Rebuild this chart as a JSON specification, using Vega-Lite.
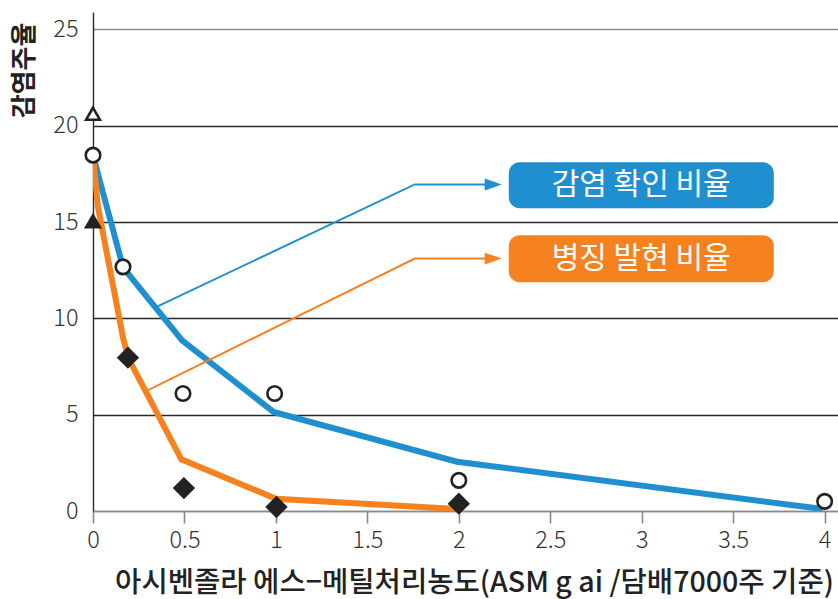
{
  "$schema": "https://vega.github.io/schema/vega-lite/v6.json",
  "autosize": {"type": "none"},
  "width": 745,
  "height": 499,
  "padding": {"left": 93, "top": 12, "right": 0, "bottom": 88},
  "background": "white",
  "config": {
    "font": "Noto Sans CJK KR",
    "view": {"stroke": null}
  },
  "datasets": {
    "lines": [
      {"series": "감염 확인 비율", "x": 0, "y": 18.45},
      {"series": "감염 확인 비율", "x": 0.164, "y": 12.65},
      {"series": "감염 확인 비율", "x": 0.487, "y": 8.86},
      {"series": "감염 확인 비율", "x": 0.987, "y": 5.14},
      {"series": "감염 확인 비율", "x": 1.99, "y": 2.56},
      {"series": "감염 확인 비율", "x": 3.99, "y": 0.1},
      {"series": "병징 발현 비율", "x": 0, "y": 18.45},
      {"series": "병징 발현 비율", "x": 0.027, "y": 15.8},
      {"series": "병징 발현 비율", "x": 0.164, "y": 9.0},
      {"series": "병징 발현 비율", "x": 0.195, "y": 7.9},
      {"series": "병징 발현 비율", "x": 0.483, "y": 2.68},
      {"series": "병징 발현 비율", "x": 1.0, "y": 0.64},
      {"series": "병징 발현 비율", "x": 1.99, "y": 0.1}
    ],
    "callouts": [
      {"series": "감염 확인 비율", "x": 0.347, "y": 10.59, "o": 1},
      {"series": "감염 확인 비율", "x": 1.759, "y": 16.95, "o": 2},
      {"series": "감염 확인 비율", "x": 2.15, "y": 16.95, "o": 3},
      {"series": "병징 발현 비율", "x": 0.301, "y": 6.27, "o": 1},
      {"series": "병징 발현 비율", "x": 1.759, "y": 13.1, "o": 2},
      {"series": "병징 발현 비율", "x": 2.15, "y": 13.1, "o": 3}
    ],
    "arrows": [
      {"series": "감염 확인 비율", "x": 2.188, "y": 16.95},
      {"series": "병징 발현 비율", "x": 2.188, "y": 13.1}
    ],
    "boxes": [
      {"series": "감염 확인 비율", "x": 2.273, "x2": 3.722, "y": 18.1, "y2": 15.72, "tx": 2.997, "ty": 16.9},
      {"series": "병징 발현 비율", "x": 2.273, "x2": 3.722, "y": 14.31, "y2": 11.87, "tx": 2.997, "ty": 13.09}
    ],
    "openPoints": [
      {"kind": "감염(원)", "x": 0, "y": 18.47},
      {"kind": "감염(원)", "x": 0.164, "y": 12.67},
      {"kind": "감염(원)", "x": 0.492, "y": 6.1},
      {"kind": "감염(원)", "x": 0.993, "y": 6.1},
      {"kind": "감염(원)", "x": 2.0, "y": 1.59},
      {"kind": "감염(원)", "x": 4.0, "y": 0.5},
      {"kind": "삼각(빈)", "x": 0, "y": 20.62}
    ],
    "filledPoints": [
      {"kind": "병징(마름모)", "x": 0.191, "y": 7.96},
      {"kind": "병징(마름모)", "x": 0.497, "y": 1.19},
      {"kind": "병징(마름모)", "x": 1.003, "y": 0.21},
      {"kind": "병징(마름모)", "x": 2.0, "y": 0.38},
      {"kind": "삼각(채움)", "x": 0, "y": 15.07}
    ]
  },
  "layer": [
    {
      "data": {"name": "lines"},
      "mark": {"type": "line", "strokeWidth": 6, "strokeJoin": "miter", "clip": true},
      "encoding": {
        "x": {
          "field": "x", "type": "quantitative",
          "scale": {"domain": [0, 4.073], "nice": false, "zero": false},
          "axis": {
            "values": [0, 0.5, 1, 1.5, 2, 2.5, 3, 3.5, 4],
            "labelExpr": "datum.value",
            "grid": false,
            "domainColor": "#8a8a8a", "domainWidth": 1.6,
            "tickColor": "#8a8a8a", "tickWidth": 1.6, "tickSize": 12,
            "labelFontSize": 23.5, "labelColor": "#333333", "labelFontWeight": 300,
            "labelPadding": 5, "labelFlush": false,
            "title": "아시벤졸라 에스−메틸처리농도(ASM g ai /담배7000주 기준)",
            "titleFontSize": 28.6, "titleFontWeight": 500, "titleColor": "#222222",
            "titleAnchor": "start", "titleAlign": "center", "titleBaseline": "middle",
            "titleX": 381, "titleY": 71
          }
        },
        "y": {
          "field": "y", "type": "quantitative",
          "scale": {"domain": [0, 25.9], "nice": false},
          "axis": {
            "values": [0, 5, 10, 15, 20, 25],
            "grid": true,
            "gridColor": {"condition": {"test": "datum.value === 0 || datum.value === 25", "value": "#8a8a8a"}, "value": "#2a2a2a"},
            "gridWidth": 1.4,
            "domainColor": "#2a2a2a", "domainWidth": 1.4,
            "ticks": false,
            "labelFontSize": 23.5, "labelColor": "#333333", "labelFontWeight": 300,
            "labelPadding": 15, "labelFlush": false,
            "title": "감염주율",
            "titleFontSize": 26, "titleFontWeight": "bold", "titleColor": "#222222",
            "titleAngle": 270, "titleAlign": "center", "titleBaseline": "middle",
            "titleX": -69, "titleY": 58
          }
        },
        "color": {
          "field": "series", "type": "nominal",
          "scale": {"domain": ["감염 확인 비율", "병징 발현 비율"], "range": ["#1f8fd0", "#f5821f"]},
          "legend": null
        },
        "order": {"field": "x", "type": "quantitative"}
      }
    },
    {
      "data": {"name": "callouts"},
      "mark": {"type": "line", "strokeWidth": 2},
      "encoding": {
        "x": {"field": "x", "type": "quantitative"},
        "y": {"field": "y", "type": "quantitative"},
        "color": {"field": "series", "type": "nominal", "legend": null},
        "order": {"field": "o", "type": "quantitative"}
      }
    },
    {
      "data": {"name": "arrows"},
      "mark": {"type": "point", "shape": "M1,0L-1,-0.7L-1,0.7Z", "size": 289, "filled": true, "opacity": 1},
      "encoding": {
        "x": {"field": "x", "type": "quantitative"},
        "y": {"field": "y", "type": "quantitative"},
        "color": {"field": "series", "type": "nominal", "legend": null}
      }
    },
    {
      "data": {"name": "boxes"},
      "mark": {"type": "rect", "cornerRadius": 11},
      "encoding": {
        "x": {"field": "x", "type": "quantitative"},
        "x2": {"field": "x2"},
        "y": {"field": "y", "type": "quantitative"},
        "y2": {"field": "y2"},
        "color": {"field": "series", "type": "nominal", "legend": null}
      }
    },
    {
      "data": {"name": "boxes"},
      "mark": {"type": "text", "fontSize": 30, "color": "white", "align": "center", "baseline": "middle", "font": "Noto Sans CJK KR"},
      "encoding": {
        "x": {"field": "tx", "type": "quantitative"},
        "y": {"field": "ty", "type": "quantitative"},
        "text": {"field": "series"}
      }
    },
    {
      "data": {"name": "openPoints"},
      "mark": {"type": "point", "filled": false, "fill": "white", "fillOpacity": 1, "stroke": "#222222", "strokeWidth": 2.6, "opacity": 1},
      "encoding": {
        "x": {"field": "x", "type": "quantitative"},
        "y": {"field": "y", "type": "quantitative"},
        "shape": {"field": "kind", "type": "nominal", "scale": {"domain": ["감염(원)", "삼각(빈)"], "range": ["circle", "triangle-up"]}, "legend": null},
        "size": {"field": "kind", "type": "nominal", "scale": {"domain": ["감염(원)", "삼각(빈)"], "range": [210, 190]}, "legend": null}
      }
    },
    {
      "data": {"name": "filledPoints"},
      "mark": {"type": "point", "filled": true, "color": "#222222", "opacity": 1},
      "encoding": {
        "x": {"field": "x", "type": "quantitative"},
        "y": {"field": "y", "type": "quantitative"},
        "shape": {"field": "kind", "type": "nominal", "scale": {"domain": ["병징(마름모)", "삼각(채움)"], "range": ["diamond", "triangle-up"]}, "legend": null},
        "size": {"field": "kind", "type": "nominal", "scale": {"domain": ["병징(마름모)", "삼각(채움)"], "range": [500, 330]}, "legend": null}
      }
    }
  ],
  "resolve": {"scale": {"shape": "independent", "size": "independent"}}
}
